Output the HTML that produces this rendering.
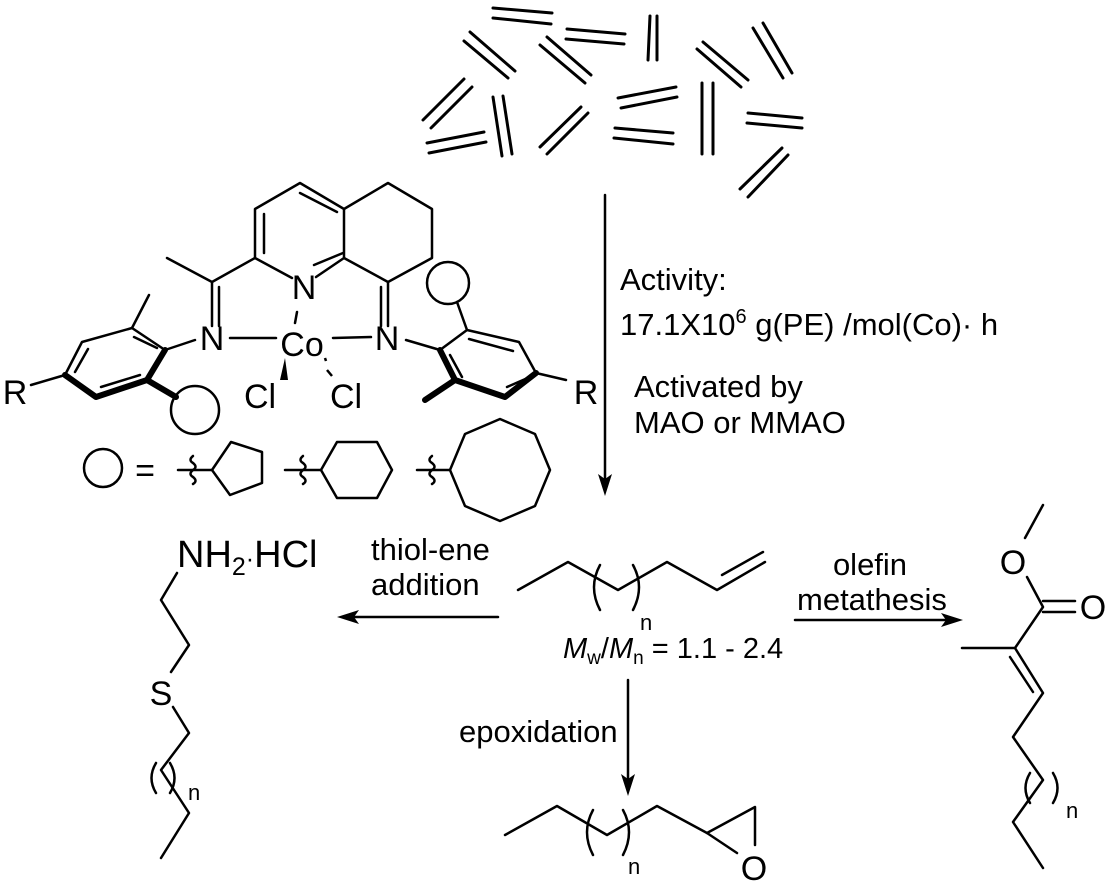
<!DOCTYPE html>
<html><head><meta charset="utf-8"><style>
html,body{margin:0;padding:0;background:#fff;}
svg{display:block;}
text{font-family:"Liberation Sans",Arial,sans-serif;fill:#000;}
</style></head><body>
<svg width="1110" height="886" viewBox="0 0 1110 886" xmlns="http://www.w3.org/2000/svg">
<g stroke="#000" stroke-width="3" stroke-linecap="round" fill="none">
<line x1="493" y1="8" x2="552" y2="13"/><line x1="493" y1="18" x2="551" y2="24"/>
<line x1="567" y1="29" x2="625" y2="34"/><line x1="566" y1="39" x2="624" y2="44"/>
<line x1="650" y1="16" x2="648" y2="60"/><line x1="657" y1="16" x2="657" y2="60"/>
<line x1="753" y1="28" x2="783" y2="78"/><line x1="763" y1="23" x2="792" y2="73"/>
<line x1="470" y1="32" x2="515" y2="71"/><line x1="464" y1="41" x2="508" y2="78"/>
<line x1="547" y1="37" x2="591" y2="75"/><line x1="540" y1="45" x2="585" y2="83"/>
<line x1="703" y1="42" x2="748" y2="80"/><line x1="697" y1="49" x2="741" y2="87"/>
<line x1="464" y1="79" x2="423" y2="120"/><line x1="472" y1="87" x2="431" y2="128"/>
<line x1="493" y1="97" x2="502" y2="156"/><line x1="503" y1="96" x2="512" y2="154"/>
<line x1="427" y1="143" x2="484" y2="132"/><line x1="429" y1="153" x2="486" y2="142"/>
<line x1="581" y1="107" x2="540" y2="147"/><line x1="588" y1="113" x2="547" y2="154"/>
<line x1="618" y1="98" x2="676" y2="87"/><line x1="621" y1="108" x2="677" y2="97"/>
<line x1="615" y1="128" x2="673" y2="133"/><line x1="614" y1="138" x2="673" y2="144"/>
<line x1="702" y1="83" x2="702" y2="154"/><line x1="713" y1="83" x2="713" y2="154"/>
<line x1="748" y1="113" x2="802" y2="118"/><line x1="747" y1="123" x2="802" y2="128"/>
<line x1="782" y1="148" x2="740" y2="189"/><line x1="788" y1="155" x2="748" y2="197"/>
</g>
<g stroke="#000" stroke-width="2.5" stroke-linecap="round" stroke-linejoin="round" fill="none">
<polyline points="292,278 255,258 255,209 300,183 344,209 344,258 316,277"/>
<line x1="264" y1="214" x2="264" y2="253"/>
<line x1="300" y1="193" x2="337" y2="212"/>
<line x1="314" y1="265" x2="343" y2="253"/>
<polyline points="344,209 388,183 432,209 432,258 388,282 344,258"/>
<polyline points="255,258 212,282 167,258"/>
<line x1="212" y1="282" x2="212" y2="326"/><line x1="219" y1="287" x2="219" y2="326"/>
<line x1="388" y1="282" x2="388" y2="326"/><line x1="381" y1="287" x2="381" y2="326"/>
<line x1="230" y1="338" x2="276" y2="338"/>
<line x1="333" y1="338" x2="371" y2="337"/>
<line x1="297" y1="312" x2="295" y2="323"/>
<line x1="195" y1="340" x2="165" y2="350"/>
<polyline points="165,350 132,328 82,342 65,375"/>
<line x1="132" y1="328" x2="149" y2="295"/>
<line x1="134" y1="337" x2="157" y2="348"/>
<line x1="88" y1="349" x2="75" y2="372"/>
<line x1="101" y1="387" x2="140" y2="375"/>
<line x1="31" y1="385" x2="65" y2="375"/>
<circle cx="195" cy="410" r="24"/>
<line x1="406" y1="340" x2="440" y2="350"/>
<polyline points="440,350 467,330 519,342 536,373"/>
<line x1="536" y1="373" x2="566" y2="380"/>
<line x1="469" y1="339" x2="513" y2="351"/>
<line x1="450" y1="355" x2="462" y2="377"/>
<line x1="507" y1="387" x2="530" y2="377"/>
<line x1="467" y1="330" x2="457" y2="302"/>
<circle cx="448" cy="283" r="21"/>
<circle cx="103" cy="468" r="19"/>
<line x1="178" y1="470" x2="212" y2="470"/>
<path d="M193,456 q-5,4 0,7 q5,4 0,7 q-5,4 0,7 q5,4 0,7"/>
<polygon points="212,470 231,442 262,452 262,483 230,495"/>
<line x1="285" y1="470" x2="321" y2="470"/>
<path d="M303,456 q-5,4 0,7 q5,4 0,7 q-5,4 0,7 q5,4 0,7"/>
<polygon points="321,470 337,442 377,442 392,470 377,498 337,498"/>
<line x1="417" y1="470" x2="450" y2="470"/>
<path d="M432,456 q-5,4 0,7 q5,4 0,7 q-5,4 0,7 q5,4 0,7"/>
<polygon points="450,470 465,434 500,419 535,434 550,470 535,506 500,521 465,506"/>
<line x1="605" y1="195" x2="605" y2="485"/>
<polyline points="177,573 161,600 189,645 171,672"/>
<polyline points="173,707 189,733 161,770 189,813 161,858"/>
<path d="M156,763 Q147,778 156,793"/><path d="M170,763 Q179,778 170,793"/>
<line x1="498" y1="617" x2="350" y2="617"/>
<polyline points="518,590 568,562 618,590 667,562 717,590 765,562"/>
<line x1="722" y1="575" x2="763" y2="552"/>
<path d="M600,565 Q588,587 600,610"/><path d="M633,565 Q645,587 633,610"/>
<line x1="628" y1="680" x2="628" y2="785"/>
<line x1="795" y1="620" x2="950" y2="620"/>
<polyline points="505,835 557,806 607,835 657,806 707,833 755,807 755,845"/>
<line x1="707" y1="833" x2="737" y2="853"/>
<path d="M593,810 Q581,832 593,855"/><path d="M623,810 Q635,832 623,855"/>
<line x1="1043" y1="505" x2="1025" y2="538"/>
<polyline points="1027,577 1043,607 1015,648 962,648"/>
<line x1="1043" y1="601" x2="1075" y2="601"/><line x1="1043" y1="612" x2="1075" y2="612"/>
<polyline points="1015,648 1043,693 1013,737 1043,780 1013,822 1043,868"/>
<line x1="1010" y1="657" x2="1033" y2="692"/>
<path d="M1030,773 Q1021,788 1030,803"/><path d="M1053,773 Q1062,788 1053,803"/>
</g>
<g stroke="#000" stroke-width="6" stroke-linejoin="round" stroke-linecap="round" fill="none">
<polyline points="65,375 96,397 147,380 165,350"/>
<line x1="147" y1="380" x2="176" y2="397"/>
<polyline points="440,350 455,380 505,397 536,373"/>
<line x1="455" y1="380" x2="425" y2="400"/>
</g>
<polygon points="285,358 280,380 288,380" fill="#000"/>
<g stroke="#000" stroke-width="2.5"><line x1="325" y1="358" x2="326" y2="361"/><line x1="327" y1="370" x2="332" y2="376"/></g>
<polygon points="605,496 598,474 605,479 612,474" fill="#000"/>
<polygon points="337,617 359,610 354,617 359,624" fill="#000"/>
<polygon points="628,796 621,774 628,779 635,774" fill="#000"/>
<polygon points="963,620 941,613 946,620 941,627" fill="#000"/>
<g font-size="34" text-anchor="middle">
<text x="212" y="350">N</text>
<text x="304" y="299">N</text>
<text x="387" y="350">N</text>
<text x="302" y="356">Co</text>
<text x="260" y="408">Cl</text>
<text x="346" y="408">Cl</text>
<text x="15" y="404">R</text>
<text x="586" y="404">R</text>
<text x="145" y="482">=</text>
<text x="161" y="705">S</text>
<text x="1013" y="574">O</text>
<text x="1093" y="619">O</text>
<text x="754" y="880">O</text>
</g>
<g font-size="22">
<text x="188" y="800">n</text>
<text x="640" y="630">n</text>
<text x="628" y="874">n</text>
<text x="1066" y="818">n</text>
</g>
<g font-size="31">
<text x="620" y="290">Activity:</text>
<text x="620" y="335">17.1X10<tspan dy="-12" font-size="20">6</tspan><tspan dy="12"> g(PE) /mol(Co)· h</tspan></text>
<text x="634" y="397">Activated by</text>
<text x="634" y="433">MAO or MMAO</text>
<text x="371" y="560">thiol-ene</text>
<text x="371" y="595">addition</text>
<text x="459" y="742">epoxidation</text>
<text x="870" y="575" text-anchor="middle">olefin</text>
<text x="797" y="610">metathesis</text>
</g>
<text x="563" y="658" font-size="29"><tspan font-style="italic">M</tspan><tspan font-size="19" dy="6">w</tspan><tspan dy="-6">/</tspan><tspan font-style="italic">M</tspan><tspan font-size="19" dy="6">n</tspan><tspan dy="-6"> = 1.1 - 2.4</tspan></text>
<text x="177" y="567" font-size="38">NH<tspan font-size="25" dy="8">2</tspan><tspan dy="-8" font-size="25">·</tspan>HCl</text>
</svg>
</body></html>
